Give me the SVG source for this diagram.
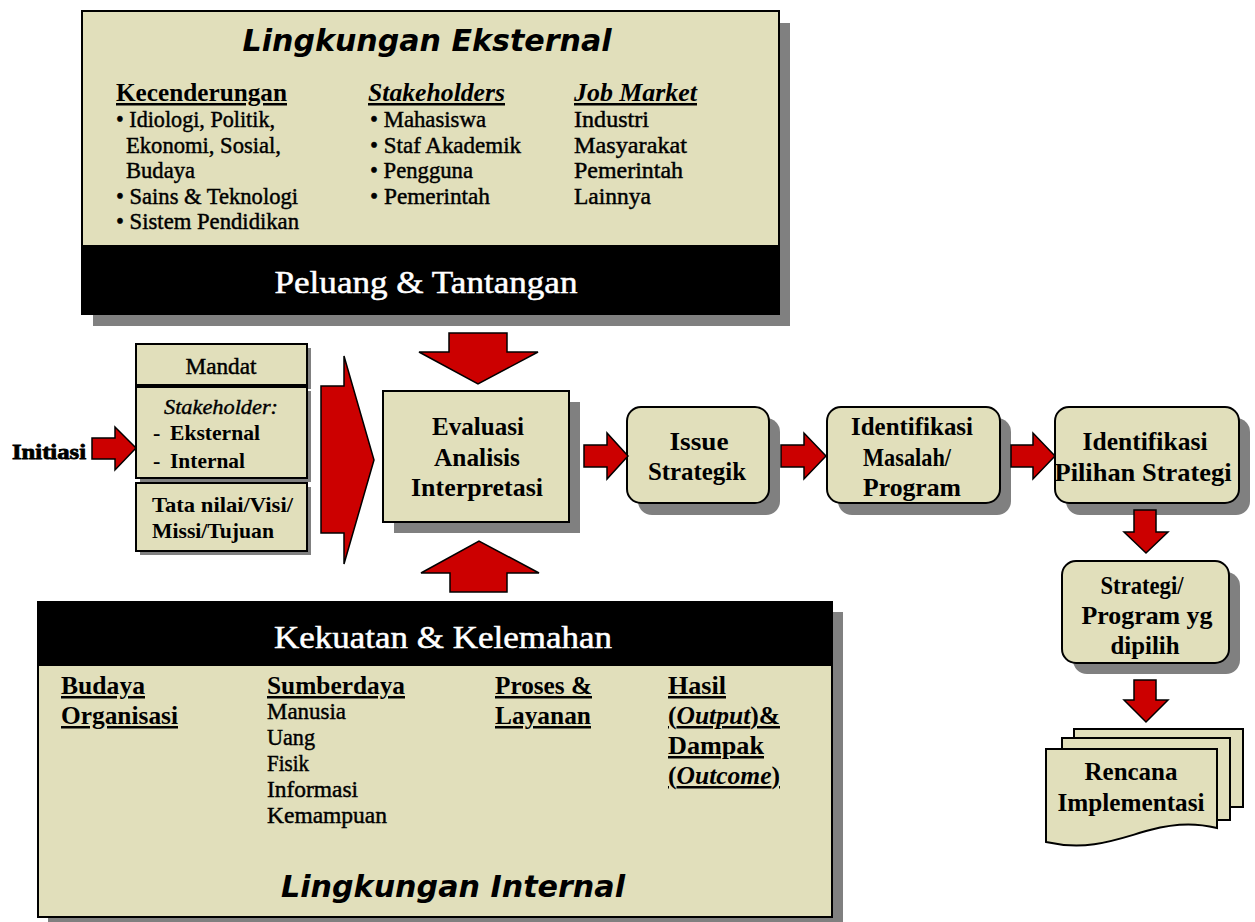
<svg xmlns="http://www.w3.org/2000/svg" width="1255" height="922" viewBox="0 0 1255 922">
  <style>
    .bg { fill: #ffffff; }
    .box { fill: #E1DFBB; stroke: #000; stroke-width: 2; }
    .band { fill: #000; }
    .shadow { fill: #808080; }
    .arrow { fill: #CC0000; stroke: #000; stroke-width: 1.5; stroke-linejoin: miter; }
    .t { font-family: "Liberation Serif", "Times New Roman", serif; fill: #000; }
    .b { font-weight: bold; }
    .i { font-style: italic; }
    .u { text-decoration: underline; }
    .h { font-size: 25px; }
    .s { font-size: 23px; stroke: #000; stroke-width: 0.45px; }
    .p { font-size: 25px; font-weight: bold; text-anchor: middle; }
    .big { font-size: 32px; fill: #fff; stroke: #fff; stroke-width: 0.5px; text-anchor: middle; }
    .title { font-family: "DejaVu Sans", Verdana, sans-serif; font-weight: bold; font-style: italic; font-size: 30px; text-anchor: middle; fill: #000; }
  </style>

  <rect class="bg" x="0" y="0" width="1255" height="922"/>

  <!-- External environment panel -->
  <g id="lingkungan-eksternal">
    <rect class="shadow" x="93" y="23" width="697" height="303"/>
    <rect class="box" x="82" y="11" width="697" height="303"/>
    <rect class="band" x="82" y="245" width="697" height="69"/>
    <text class="title" x="427" y="51" textLength="369" lengthAdjust="spacingAndGlyphs">Lingkungan Eksternal</text>
    <text class="t b h u" x="116" y="101" textLength="171" lengthAdjust="spacingAndGlyphs">Kecenderungan</text>
    <text class="t s" x="116" y="127" textLength="159" lengthAdjust="spacingAndGlyphs">• Idiologi, Politik,</text>
    <text class="t s" x="126" y="153" textLength="155" lengthAdjust="spacingAndGlyphs">Ekonomi, Sosial,</text>
    <text class="t s" x="126" y="178" textLength="69" lengthAdjust="spacingAndGlyphs">Budaya</text>
    <text class="t s" x="116" y="204" textLength="182" lengthAdjust="spacingAndGlyphs">• Sains &amp; Teknologi</text>
    <text class="t s" x="116" y="229" textLength="183" lengthAdjust="spacingAndGlyphs">• Sistem Pendidikan</text>
    <text class="t b i h u" x="368" y="101" textLength="137" lengthAdjust="spacingAndGlyphs">Stakeholders</text>
    <text class="t s" x="370" y="127" textLength="116" lengthAdjust="spacingAndGlyphs">• Mahasiswa</text>
    <text class="t s" x="370" y="153" textLength="151" lengthAdjust="spacingAndGlyphs">• Staf Akademik</text>
    <text class="t s" x="370" y="178" textLength="103" lengthAdjust="spacingAndGlyphs">• Pengguna</text>
    <text class="t s" x="370" y="204" textLength="120" lengthAdjust="spacingAndGlyphs">• Pemerintah</text>
    <text class="t b i h u" x="574" y="101" textLength="123" lengthAdjust="spacingAndGlyphs">Job Market</text>
    <text class="t s" x="574" y="127" textLength="75" lengthAdjust="spacingAndGlyphs">Industri</text>
    <text class="t s" x="574" y="153" textLength="113" lengthAdjust="spacingAndGlyphs">Masyarakat</text>
    <text class="t s" x="574" y="178" textLength="109" lengthAdjust="spacingAndGlyphs">Pemerintah</text>
    <text class="t s" x="574" y="204" textLength="77" lengthAdjust="spacingAndGlyphs">Lainnya</text>
    <text class="t big" x="426" y="293" textLength="303" lengthAdjust="spacingAndGlyphs">Peluang &amp; Tantangan</text>
  </g>

  <!-- Internal environment panel -->
  <g id="lingkungan-internal">
    <rect class="shadow" x="48" y="612" width="795" height="315"/>
    <rect class="box" x="38" y="602" width="794" height="315"/>
    <rect class="band" x="38" y="602" width="794" height="64"/>
    <text class="t big" x="443" y="648" textLength="338" lengthAdjust="spacingAndGlyphs">Kekuatan &amp; Kelemahan</text>
    <text class="t b h u" x="61" y="694" textLength="84" lengthAdjust="spacingAndGlyphs">Budaya</text>
    <text class="t b h u" x="61" y="724" textLength="117" lengthAdjust="spacingAndGlyphs">Organisasi</text>
    <text class="t b h u" x="267" y="694" textLength="138" lengthAdjust="spacingAndGlyphs">Sumberdaya</text>
    <text class="t s" x="267" y="719" textLength="79" lengthAdjust="spacingAndGlyphs">Manusia</text>
    <text class="t s" x="267" y="745" textLength="48" lengthAdjust="spacingAndGlyphs">Uang</text>
    <text class="t s" x="267" y="771" textLength="42" lengthAdjust="spacingAndGlyphs">Fisik</text>
    <text class="t s" x="267" y="797" textLength="91" lengthAdjust="spacingAndGlyphs">Informasi</text>
    <text class="t s" x="267" y="823" textLength="120" lengthAdjust="spacingAndGlyphs">Kemampuan</text>
    <text class="t b h u" x="495" y="694" textLength="97" lengthAdjust="spacingAndGlyphs">Proses &amp;</text>
    <text class="t b h u" x="495" y="724" textLength="96" lengthAdjust="spacingAndGlyphs">Layanan</text>
    <text class="t b h u" x="668" y="694" textLength="58" lengthAdjust="spacingAndGlyphs">Hasil</text>
    <text class="t b h u" x="668" y="724" textLength="112" lengthAdjust="spacingAndGlyphs">(<tspan class="i">Output</tspan>)&amp;</text>
    <text class="t b h u" x="668" y="754" textLength="96" lengthAdjust="spacingAndGlyphs">Dampak</text>
    <text class="t b h u" x="668" y="784" textLength="112" lengthAdjust="spacingAndGlyphs">(<tspan class="i">Outcome</tspan>)</text>
    <text class="title" x="453" y="897" textLength="344" lengthAdjust="spacingAndGlyphs">Lingkungan Internal</text>
  </g>

  <!-- Initiation label -->
  <g id="initiasi">
    <text class="t b" x="12" y="459" font-size="22" stroke="#000" stroke-width="0.8" textLength="74" lengthAdjust="spacingAndGlyphs">Initiasi</text>
  </g>

  <!-- Mandate / stakeholder / values stack -->
  <g id="mandat">
    <rect class="shadow" x="140" y="348" width="171" height="41"/>
    <rect class="box" x="136" y="344" width="171" height="41"/>
    <text class="t s" x="221" y="374" text-anchor="middle" textLength="71" lengthAdjust="spacingAndGlyphs">Mandat</text>
  </g>
  <g id="stakeholder">
    <rect class="shadow" x="140" y="391" width="171" height="91"/>
    <rect class="box" x="136" y="387" width="171" height="91"/>
    <text class="t i" x="221" y="414" font-size="22" stroke="#000" stroke-width="0.4" text-anchor="middle" textLength="114" lengthAdjust="spacingAndGlyphs">Stakeholder:</text>
    <text class="t b" font-size="22" y="440"><tspan x="153">-</tspan><tspan x="170" textLength="90" lengthAdjust="spacingAndGlyphs">Eksternal</tspan></text>
    <text class="t b" font-size="22" y="468"><tspan x="153">-</tspan><tspan x="170" textLength="75" lengthAdjust="spacingAndGlyphs">Internal</tspan></text>
  </g>
  <g id="tata-nilai">
    <rect class="shadow" x="140" y="487" width="171" height="68"/>
    <rect class="box" x="136" y="483" width="171" height="68"/>
    <text class="t b" font-size="22" x="152" y="512" textLength="141" lengthAdjust="spacingAndGlyphs">Tata nilai/Visi/</text>
    <text class="t b" font-size="22" x="152" y="538" textLength="122" lengthAdjust="spacingAndGlyphs">Missi/Tujuan</text>
  </g>

  <!-- Central evaluation step -->
  <g id="evaluasi">
    <rect class="shadow" x="394" y="402" width="186" height="131"/>
    <rect class="box" x="383" y="391" width="186" height="131"/>
    <text class="t p" x="478" y="435" textLength="92" lengthAdjust="spacingAndGlyphs">Evaluasi</text>
    <text class="t p" x="477" y="466" textLength="86" lengthAdjust="spacingAndGlyphs">Analisis</text>
    <text class="t p" x="477" y="496" textLength="132" lengthAdjust="spacingAndGlyphs">Interpretasi</text>
  </g>

  <!-- Process chain -->
  <g id="issue-strategik">
    <rect class="shadow" x="638" y="418" width="142" height="97" rx="14"/>
    <rect class="box" x="627" y="407" width="142" height="96" rx="14"/>
    <text class="t p" x="699" y="450" textLength="59" lengthAdjust="spacingAndGlyphs">Issue</text>
    <text class="t p" x="697" y="480" textLength="98" lengthAdjust="spacingAndGlyphs">Strategik</text>
  </g>
  <g id="identifikasi-masalah">
    <rect class="shadow" x="838" y="418" width="173" height="97" rx="14"/>
    <rect class="box" x="827" y="407" width="173" height="96" rx="14"/>
    <text class="t p" x="912" y="435" textLength="122" lengthAdjust="spacingAndGlyphs">Identifikasi</text>
    <text class="t p" x="907" y="466" textLength="88" lengthAdjust="spacingAndGlyphs">Masalah/</text>
    <text class="t p" x="912" y="496" textLength="98" lengthAdjust="spacingAndGlyphs">Program</text>
  </g>
  <g id="identifikasi-pilihan">
    <rect class="shadow" x="1066" y="418" width="184" height="97" rx="14"/>
    <rect class="box" x="1055" y="407" width="184" height="96" rx="14"/>
    <text class="t p" x="1145" y="450" textLength="125" lengthAdjust="spacingAndGlyphs">Identifikasi</text>
    <text class="t p" x="1143" y="481" textLength="177" lengthAdjust="spacingAndGlyphs">Pilihan Strategi</text>
  </g>
  <g id="strategi-dipilih">
    <rect class="shadow" x="1073" y="572" width="167" height="102" rx="14"/>
    <rect class="box" x="1062" y="561" width="167" height="102" rx="14"/>
    <text class="t p" x="1142" y="594" textLength="83" lengthAdjust="spacingAndGlyphs">Strategi/</text>
    <text class="t p" x="1147" y="624" textLength="131" lengthAdjust="spacingAndGlyphs">Program yg</text>
    <text class="t p" x="1145" y="654" textLength="69" lengthAdjust="spacingAndGlyphs">dipilih</text>
  </g>
  <g id="rencana-implementasi">
    <rect class="box" x="1074" y="729" width="169" height="78"/>
    <rect class="box" x="1062" y="738" width="168" height="82"/>
    <path class="box" d="M1046,749 H1217 V828 C1200,824 1180,822 1150,830 C1120,838 1090,852 1046,842 Z"/>
    <text class="t p" x="1131" y="780" textLength="93" lengthAdjust="spacingAndGlyphs">Rencana</text>
    <text class="t p" x="1131" y="811" textLength="147" lengthAdjust="spacingAndGlyphs">Implementasi</text>
  </g>

  <!-- Block arrows -->
  <g id="connectors">
    <polygon class="arrow" points="92,438 115,438 115,427 136,448 115,470 115,459 92,459"/>
    <polygon class="arrow" points="321,386 344,386 344,356 374,460 344,564 344,533 321,533"/>
    <polygon class="arrow" points="449,333 507,333 507,352 538,352 478,384 419,352 449,352"/>
    <polygon class="arrow" points="450,592 507,592 507,573 539,573 479,541 421,573 450,573"/>
    <polygon class="arrow" points="584,445 607,445 607,433 628,456 607,479 607,467 584,467"/>
    <polygon class="arrow" points="781,445 804,445 804,433 826,456 804,479 804,467 781,467"/>
    <polygon class="arrow" points="1011,445 1033,445 1033,433 1055,456 1033,479 1033,467 1011,467"/>
    <polygon class="arrow" points="1134,510 1156,510 1156,532 1168,532 1146,553 1124,532 1134,532"/>
    <polygon class="arrow" points="1134,680 1156,680 1156,700 1168,700 1146,722 1124,700 1134,700"/>
  </g>
</svg>
